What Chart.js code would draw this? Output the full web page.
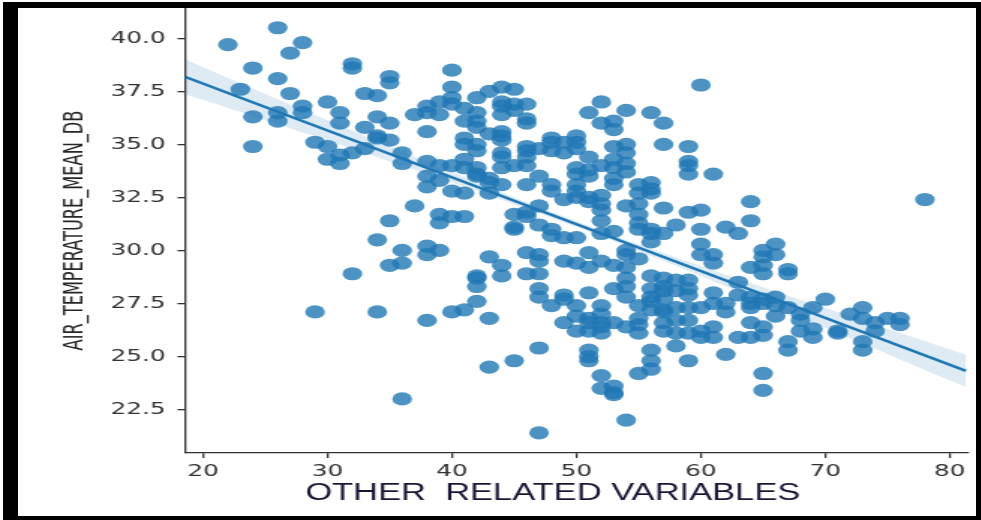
<!DOCTYPE html>
<html>
<head>
<meta charset="utf-8">
<script src="https://cdn.jsdelivr.net/npm/chart.js@4.4.1/dist/chart.umd.min.js"></script>
<style>
    html, body { margin: 0; padding: 0; background: #fff; }
    #frame { position: absolute; left: 3px; top: 2px; width: 978px; height: 518px; background: #000; }
    /* the reference is a horizontally stretched picture, so the canvas is too */
    #chart { position: absolute; left: 15px; top: 6px; background: #fff; transform-origin: 0 0; transform: scaleX(1.4992); }
</style>
</head>
<body>
<div id="frame"><canvas id="chart" width="639" height="508"></canvas></div>
<script>
// Scatter values, one list of y values per x column
const colX = [22, 23, 24, 26, 27, 28, 29, 30, 31, 32, 33, 34, 35, 36, 37, 38, 39, 40, 41, 42, 43, 44, 45, 46, 47, 48, 49, 50,
    51, 52, 53, 54, 55, 56, 57, 58, 59, 60, 61, 62, 63, 64, 65, 66, 67, 68, 69, 70, 71, 72, 73, 74, 75, 76, 78];
const colY = [
    [39.7],
    [37.6],
    [38.6, 36.3, 34.9],
    [40.5, 38.1, 36.5, 36.1],
    [39.3, 37.4],
    [39.8, 36.8, 36.5],
    [35.1, 27.1],
    [37.0, 34.9, 34.3],
    [36.5, 36.0, 34.5, 34.1],
    [38.8, 38.6, 34.6, 28.9],
    [37.4, 35.8, 34.8],
    [37.3, 36.3, 35.4, 35.3, 30.5, 27.1],
    [38.2, 37.9, 36.0, 35.2, 31.4, 29.3],
    [34.6, 34.1, 30.0, 29.4, 23.0],
    [36.4, 32.1],
    [36.8, 36.5, 35.6, 34.2, 33.5, 33.0, 30.2, 29.8, 26.7],
    [37.0, 36.4, 34.0, 33.3, 31.7, 31.3, 30.0],
    [38.5, 37.7, 37.2, 36.9, 34.0, 32.8, 31.6, 27.1],
    [36.7, 36.1, 35.3, 35.0, 34.3, 33.9, 32.7, 31.6, 27.2],
    [37.2, 36.5, 36.1, 35.8, 35.0, 34.7, 33.9, 33.6, 33.5, 28.8, 28.7, 28.3, 27.6],
    [37.5, 35.5, 33.4, 33.2, 32.7, 29.7, 26.8, 24.5],
    [37.7, 37.0, 36.8, 36.4, 35.6, 35.4, 35.2, 34.6, 34.4, 33.9, 33.1, 29.3, 28.8],
    [37.6, 36.9, 36.6, 34.0, 31.7, 31.1, 31.0, 24.8],
    [36.9, 36.2, 36.0, 34.9, 34.7, 34.4, 34.0, 33.1, 31.8, 31.6, 29.9, 28.9],
    [34.8, 33.5, 32.1, 31.2, 29.8, 29.5, 28.9, 28.2, 27.8, 25.4, 21.4],
    [35.3, 35.1, 34.7, 33.1, 32.8, 31.0, 30.7, 27.4],
    [35.1, 34.6, 32.4, 30.6, 29.5, 27.9, 27.7, 26.6],
    [35.4, 35.1, 34.8, 33.9, 33.6, 33.1, 32.8, 32.5, 30.6, 29.4, 27.4, 26.9, 26.2],
    [36.5, 34.4, 33.8, 33.5, 32.5, 32.3, 29.9, 29.2, 28.0, 26.8, 26.6, 26.2, 25.3, 25.0, 24.8],
    [37.0, 36.0, 34.0, 32.6, 32.2, 31.9, 31.4, 30.8, 29.5, 27.4, 27.0, 26.6, 26.4, 26.1, 24.1, 23.5],
    [36.1, 35.7, 34.9, 34.3, 33.9, 33.4, 33.1, 30.9, 29.3, 28.2, 26.6, 23.6, 23.3, 23.2],
    [36.6, 35.0, 34.6, 34.1, 33.7, 32.1, 30.0, 29.8, 29.2, 28.7, 28.3, 27.8, 26.4, 22.0],
    [33.1, 32.7, 32.2, 31.7, 31.3, 31.0, 29.6, 27.4, 26.8, 26.5, 26.1, 24.2],
    [36.5, 33.2, 32.9, 32.7, 31.0, 30.8, 30.4, 28.8, 28.2, 27.8, 27.6, 27.2, 25.3, 24.8, 24.4],
    [36.0, 35.0, 32.0, 30.8, 28.7, 28.3, 28.1, 27.7, 27.2, 27.1, 26.6, 26.2],
    [31.2, 28.6, 28.1, 27.3, 26.7, 26.1, 25.5],
    [34.9, 34.2, 34.0, 33.6, 31.8, 28.6, 28.2, 27.9, 27.3, 26.7, 26.1, 24.8],
    [37.8, 31.9, 31.0, 30.3, 29.8, 27.3, 26.2, 25.9],
    [33.6, 29.8, 29.4, 28.0, 27.5, 26.4, 25.9],
    [31.1, 27.5, 27.1, 25.1],
    [30.8, 28.5, 27.9, 25.9],
    [32.3, 31.4, 29.2, 27.8, 27.5, 27.3, 26.6, 25.9],
    [30.0, 29.7, 29.3, 28.9, 27.7, 27.5, 26.4, 26.0, 24.2, 23.4],
    [30.3, 29.8, 27.8, 27.4, 26.9],
    [29.1, 28.9, 27.3, 25.7, 25.3],
    [27.0, 26.7, 26.2],
    [27.3, 26.3, 25.9],
    [27.7],
    [26.2, 26.1],
    [27.0],
    [27.3, 26.8, 25.7, 25.3],
    [26.6, 26.2],
    [26.8],
    [26.8, 26.5],
    [32.4]
];

// Regression line ends and confidence band
const fitX = [18.55, 81.3];
const fitY = [38.19, 24.32];
const bandX = [18.55, 25, 30, 35, 40, 45, 50, 55, 60, 65, 70, 75, 81.3];
const bandUpper = [39.01, 37.38, 36.14, 34.91, 33.70, 32.51, 31.38, 30.29, 29.27, 28.27, 27.29, 26.31, 25.08];
const bandLower = [37.37, 36.14, 35.18, 34.19, 33.20, 32.17, 31.10, 29.97, 28.79, 27.57, 26.35, 25.11, 23.56];

// Tick values
const xTicks = [20, 30, 40, 50, 60, 70, 80];
const yTicks = [22.5, 25.0, 27.5, 30.0, 32.5, 35.0, 37.5, 40.0];

let points = [];
for (let i = 0; i < colX.length; i++) {
    for (let j = 0; j < colY[i].length; j++) {
        points.push({ x: colX[i], y: colY[i][j] });
    }
}

const blue = 'rgb(31, 119, 180)';
const tickFont = { family: 'DejaVu Sans', size: 16.5 };

const ctx = document.getElementById('chart').getContext('2d');

const chart = new Chart(ctx, {
    type: 'line',
    data: {
        datasets: [
            {
                data: fitX.map((x, i) => ({ x: x, y: fitY[i] })),
                borderColor: blue,
                borderWidth: 2.5,
                pointRadius: 0,
                fill: false,
                order: 0
            }, {
                data: bandX.map((x, i) => ({ x: x, y: bandUpper[i] })),
                borderColor: 'rgba(0, 0, 0, 0)',
                borderWidth: 0,
                backgroundColor: 'rgba(31, 119, 180, 0.15)',
                pointRadius: 0,
                tension: 0.4,
                fill: '+1',
                order: 1
            }, {
                data: bandX.map((x, i) => ({ x: x, y: bandLower[i] })),
                borderColor: 'rgba(0, 0, 0, 0)',
                borderWidth: 0,
                pointRadius: 0,
                tension: 0.4,
                fill: false,
                order: 2
            }, {
                data: points,
                showLine: false,
                pointRadius: 6.6,
                pointBackgroundColor: 'rgba(31, 119, 180, 0.8)',
                pointBorderWidth: 0,
                order: 3
            }]
    },
    options: {
        responsive: false,
        animation: false,
        layout: { autoPadding: false, padding: { left: 0, right: 5, top: 0, bottom: 0 } },
        plugins: {
            legend: { display: false },
            tooltip: { enabled: false }
        },
        scales: {
            x: {
                type: 'linear',
                min: 18.55,
                max: 81.5,
                afterBuildTicks: function (scale) {
                    scale.ticks = xTicks.map(v => ({ value: v }));
                },
                afterFit: function (scale) {
                    scale.height = 63;
                    scale.paddingLeft = 0;
                    scale.paddingRight = 0;
                },
                grid: { drawOnChartArea: false, drawTicks: true, tickLength: 5, color: '#333', lineWidth: 1.3 },
                border: { display: true, color: '#333', width: 1.3 },
                ticks: {
                    padding: 4,
                    font: tickFont,
                    color: '#303030',
                    maxRotation: 0,
                    callback: v => String(v)
                },
                title: {
                    display: true,
                    // trailing spaces push the title a little left of centre, as in the picture
                    text: 'OTHER  RELATED VARIABLES     ',
                    font: { family: 'Liberation Sans', size: 23 },
                    color: '#1c1436',
                    padding: { top: 0, bottom: 9 }
                }
            },
            y: {
                min: 20.45,
                max: 41.43,
                afterBuildTicks: function (scale) {
                    scale.ticks = yTicks.map(v => ({ value: v }));
                },
                afterFit: function (scale) {
                    scale.width = 111.4;
                    scale.paddingTop = 0;
                    scale.paddingBottom = 0;
                },
                grid: { drawOnChartArea: false, drawTicks: true, tickLength: 5, color: '#333', lineWidth: 1.3 },
                border: { display: true, color: '#333', width: 1.3 },
                ticks: {
                    padding: 8,
                    font: tickFont,
                    color: '#303030',
                    callback: v => v.toFixed(1)
                },
                title: {
                    display: true,
                    text: 'AIR_TEMPERATURE_MEAN_DB',
                    font: { family: "'Liberation Sans Narrow', 'DejaVu Sans Condensed', 'Liberation Sans'", size: 18 },
                    color: '#262626',
                    padding: { top: 28, bottom: 0 }
                }
            }
        }
    }
});
</script>
</body>
</html>
